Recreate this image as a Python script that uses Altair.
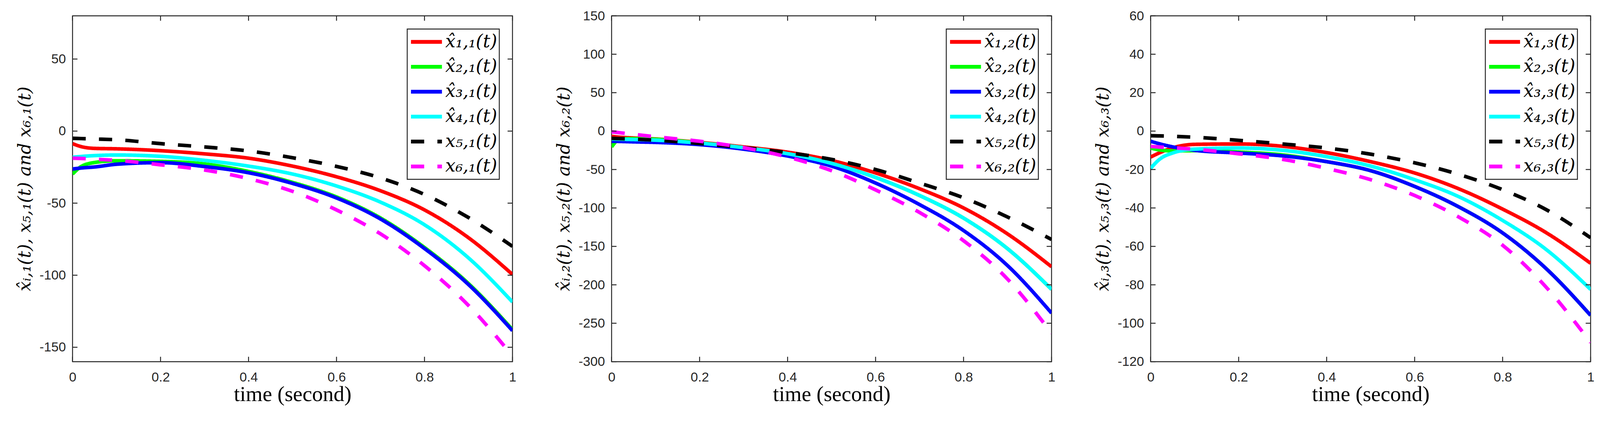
import altair as alt
import pandas as pd

# ---------------- data ----------------
T = [0.0, 0.02, 0.05, 0.1, 0.2, 0.3, 0.4, 0.5, 0.6, 0.7, 0.8, 0.9, 1.0]

# panel 1  (j = 1)
P1_X1 = [-8.7, -10.8, -12.0, -12.3, -13.6, -15.8, -18.8, -24.3, -31.7, -41.4, -54.7, -74.0, -99.5]
P1_X2 = [-29.8, -24.5, -21.8, -20.6, -21.0, -22.8, -28.0, -35.6, -45.7, -60.3, -80.8, -105.8, -137.8]
P1_X3 = [-26.3, -25.6, -24.9, -23.0, -21.9, -24.6, -28.9, -36.3, -46.4, -61.0, -81.5, -106.5, -138.5]
P1_X4 = [-18.2, -17.6, -17.0, -16.6, -17.5, -20.3, -24.3, -29.8, -38.1, -49.3, -65.0, -88.0, -118.6]
P1_X5 = [-5.0, -5.2, -5.5, -6.0, -8.7, -11.0, -13.8, -18.5, -24.5, -32.5, -44.0, -60.0, -80.0]
P1_X6 = [-18.8, -19.0, -19.5, -20.3, -23.4, -27.0, -33.0, -41.8, -54.7, -71.3, -93.4, -121.0, -156.0]

# panel 2  (j = 2)
P2_X1 = [-6.8, -8.0, -9.0, -10.3, -14.7, -20.6, -27.4, -38.2, -54.4, -75.0, -100.0, -133.8, -176.5]
P2_X2 = [-20.6, -10.0, -9.8, -10.6, -15.2, -21.5, -29.4, -42.0, -60.3, -83.8, -113.2, -153.0, -205.9]
P2_X3 = [-13.2, -13.5, -14.0, -14.7, -17.6, -23.5, -32.4, -45.6, -67.6, -95.6, -129.4, -175.0, -236.8]
P2_X4 = [-10.3, -10.6, -11.0, -11.8, -15.6, -21.5, -29.4, -42.0, -60.3, -83.8, -113.2, -153.0, -205.9]
P2_X5 = [-9.4, -9.8, -10.5, -11.8, -16.2, -21.5, -28.0, -36.8, -50.0, -67.6, -86.8, -111.8, -141.0]
P2_X6 = [-0.9, -2.2, -4.2, -7.4, -13.2, -21.5, -33.8, -51.5, -76.5, -105.9, -142.6, -192.6, -263.0]

# panel 3  (j = 3)
P3_X1 = [-13.5, -11.3, -8.7, -6.9, -6.7, -7.9, -11.2, -15.9, -21.8, -30.0, -40.6, -53.0, -68.8]
P3_X2 = [-8.8, -9.8, -10.3, -10.2, -10.9, -12.4, -15.9, -20.6, -28.8, -39.4, -53.0, -71.8, -95.9]
P3_X3 = [-5.3, -6.6, -8.2, -10.0, -11.4, -12.9, -15.9, -20.6, -28.8, -39.4, -53.0, -71.8, -95.9]
P3_X4 = [-19.4, -14.7, -11.4, -9.4, -8.8, -10.0, -13.3, -18.2, -25.3, -34.1, -46.5, -61.8, -82.4]
P3_X5 = [-2.4, -2.5, -2.7, -3.2, -4.8, -6.7, -8.8, -12.0, -16.5, -22.5, -30.5, -41.0, -55.5]
P3_X6 = [-8.0, -8.3, -8.7, -9.4, -11.8, -14.7, -19.4, -25.3, -33.5, -44.7, -59.4, -81.5, -110.0]

X_TICKS = [0, 0.2, 0.4, 0.6, 0.8, 1]
P1_YTICKS = [-150, -100, -50, 0, 50]
P2_YTICKS = [-300, -250, -200, -150, -100, -50, 0, 50, 100, 150]
P3_YTICKS = [-120, -100, -80, -60, -40, -20, 0, 20, 40, 60]
P1_YDOMAIN = [-160, 80]
P2_YDOMAIN = [-300, 150]
P3_YDOMAIN = [-120, 60]

COLORS = ["#ff0000", "#00ff00", "#0000ff", "#00ffff", "#000000", "#ff00ff"]
DASHES = [[1, 0], [1, 0], [1, 0], [1, 0], [35, 35], [35, 35]]

# ---------------- styling ----------------
W, H = 1166, 916
FRAME = "#262626"
TICK = 13
SUB = str.maketrans("0123456789", "₀₁₂₃₄₅₆₇₈₉")


def label(i, j, hat):
    base = "x\u0302" if hat else "x"
    return f"{base}{str(i).translate(SUB)},{str(j).translate(SUB)}(t)"


def panel(j, series, yticks, ydomain):
    labels = [label(i, j, i <= 4) for i in range(1, 7)]
    rows = []
    for lab, vals in zip(labels, series):
        for t, v in zip(T, vals):
            rows.append({"t": t, "v": v, "s": lab})
    df = pd.DataFrame(rows)

    xs = alt.Scale(domain=[0, 1], nice=False, zero=False)
    ys = alt.Scale(domain=ydomain, nice=False, zero=False)
    sj = str(j).translate(SUB)
    ytitle = f"x\u0302ᵢ,{sj}(t), x₅,{sj}(t) and x₆,{sj}(t)"

    xaxis = alt.Axis(
        values=X_TICKS, format="~g", title="time (second)",
        titleFont="Liberation Serif", titleFontSize=57, titleFontWeight="normal",
        titleColor="black", labelPadding=24, titlePadding=0)
    yaxis = alt.Axis(
        values=yticks, labelExpr="datum.value + ''", title=ytitle,
        titleFont="DejaVu Serif", titleFontStyle="italic", titleFontSize=47,
        titleFontWeight="normal", titleColor="black", labelPadding=18, titlePadding=14)

    leg = alt.Legend(
        orient="top-right", offset=35, title=None,
        symbolType="stroke", symbolSize=6724, symbolStrokeWidth=10,
        labelFont="DejaVu Serif", labelFontStyle="italic", labelFontSize=48,
        labelColor="black", labelOffset=4, labelLimit=0,
        padding=5, rowPadding=8, clipHeight=58,
        strokeColor=FRAME, fillColor="white",
    )

    lines = alt.Chart(df).mark_line(strokeWidth=9.5, interpolate="monotone", clip=True).encode(
        x=alt.X("t:Q", scale=xs, axis=xaxis),
        y=alt.Y("v:Q", scale=ys, axis=yaxis),
        color=alt.Color("s:N", scale=alt.Scale(domain=labels, range=COLORS), legend=leg),
        strokeDash=alt.StrokeDash("s:N", scale=alt.Scale(domain=labels, range=DASHES), legend=leg),
    )

    ydf = pd.DataFrame({"v": yticks})
    xdf = pd.DataFrame({"t": X_TICKS})
    rule = dict(color=FRAME, strokeWidth=2.5)
    left = alt.Chart(ydf).mark_rule(**rule).encode(
        y=alt.Y("v:Q", scale=ys, axis=yaxis), x=alt.value(0), x2=alt.value(TICK))
    right = alt.Chart(ydf).mark_rule(**rule).encode(
        y=alt.Y("v:Q", scale=ys, axis=yaxis), x=alt.value(W - TICK), x2=alt.value(W))
    bottom = alt.Chart(xdf).mark_rule(**rule).encode(
        x=alt.X("t:Q", scale=xs, axis=xaxis), y=alt.value(H - TICK), y2=alt.value(H))
    top = alt.Chart(xdf).mark_rule(**rule).encode(
        x=alt.X("t:Q", scale=xs, axis=xaxis), y=alt.value(0), y2=alt.value(TICK))

    return alt.layer(lines, left, right, bottom, top).properties(width=W, height=H)


p1 = panel(1, [P1_X1, P1_X2, P1_X3, P1_X4, P1_X5, P1_X6], P1_YTICKS, P1_YDOMAIN)
p2 = panel(2, [P2_X1, P2_X2, P2_X3, P2_X4, P2_X5, P2_X6], P2_YTICKS, P2_YDOMAIN)
p3 = panel(3, [P3_X1, P3_X2, P3_X3, P3_X4, P3_X5, P3_X6], P3_YTICKS, P3_YDOMAIN)

chart = (
    alt.HConcatChart(hconcat=[p1, p2, p3], spacing=262.7, bounds="flush")
    .resolve_scale(color="independent", strokeDash="independent", x="independent", y="independent")
    .properties(padding={"left": 32, "top": -4, "right": 5, "bottom": 5}, background="white")
    .configure_view(stroke=FRAME, strokeWidth=2.5)
    .configure_axis(
        domain=False, ticks=False, grid=False,
        labelFont="Liberation Sans", labelFontSize=35, labelColor=FRAME,
        labelFlush=False, labelOverlap=False,
    )
    .configure_legend(strokeWidth=2.5)
)

chart.save("out.html", embed_options={"renderer": "svg", "actions": False})
